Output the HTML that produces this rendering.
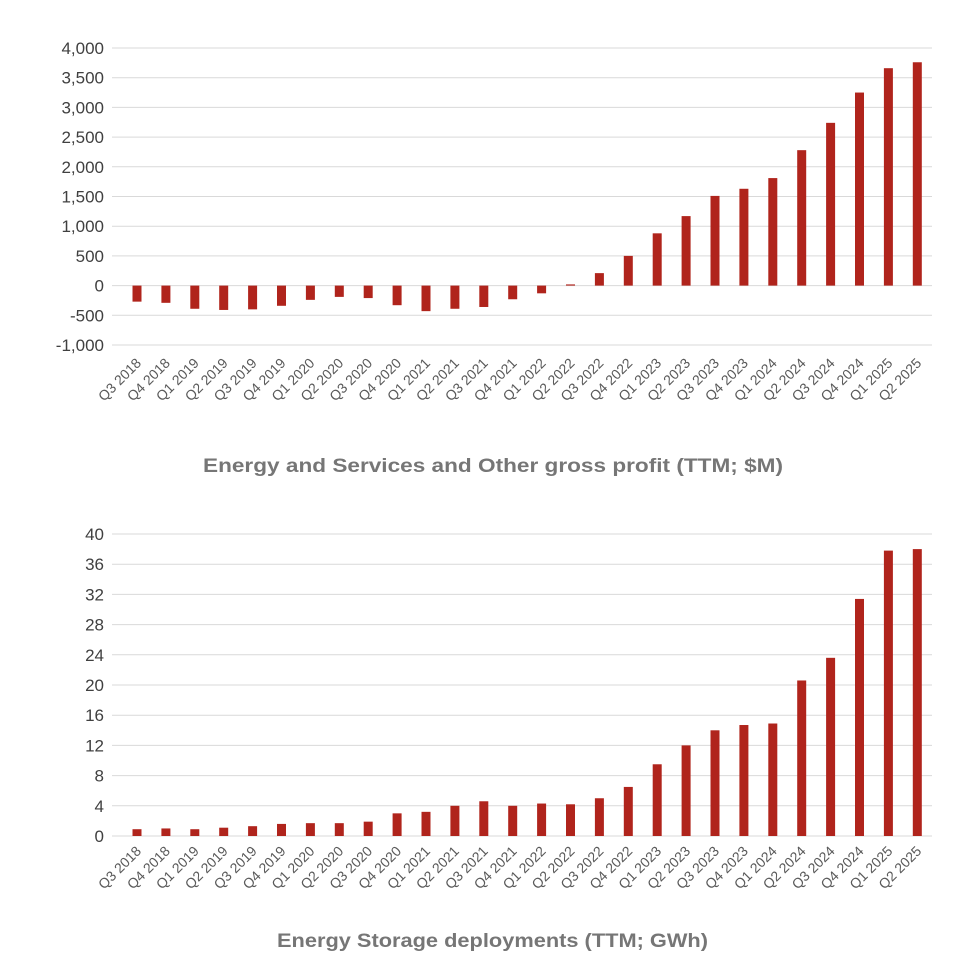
<!DOCTYPE html>
<html><head><meta charset="utf-8"><style>
body{margin:0;background:#fff;}
svg{display:block;font-family:"Liberation Sans",sans-serif;}
</style></head><body>
<svg id="c" width="980" height="972"></svg>
<script>
const categories=["Q3 2018","Q4 2018","Q1 2019","Q2 2019","Q3 2019","Q4 2019","Q1 2020","Q2 2020","Q3 2020","Q4 2020","Q1 2021","Q2 2021","Q3 2021","Q4 2021","Q1 2022","Q2 2022","Q3 2022","Q4 2022","Q1 2023","Q2 2023","Q3 2023","Q4 2023","Q1 2024","Q2 2024","Q3 2024","Q4 2024","Q1 2025","Q2 2025"];
const profitValues=[-270,-290,-390,-410,-400,-340,-240,-190,-210,-330,-430,-390,-360,-230,-130,20,210,500,880,1170,1510,1630,1810,2280,2740,3250,3660,3760];
const storageValues=[0.9,1.0,0.9,1.1,1.3,1.6,1.7,1.7,1.9,3.0,3.2,4.0,4.6,4.0,4.3,4.2,5.0,6.5,9.5,12.0,14.0,14.7,14.9,20.6,23.6,31.4,37.8,38.0];
const profitTicks=[-1000,-500,0,500,1000,1500,2000,2500,3000,3500,4000];
const profitTickLabels=["-1,000","-500","0","500","1,000","1,500","2,000","2,500","3,000","3,500","4,000"];
const storageTicks=[0,4,8,12,16,20,24,28,32,36,40];
const storageTickLabels=["0","4","8","12","16","20","24","28","32","36","40"];
const NS="http://www.w3.org/2000/svg",svg=document.getElementById('c');
function mk(t,a,p){const e=document.createElementNS(NS,t);for(const k in a)e.setAttribute(k,a[k]);(p||svg).appendChild(e);return e;}
function chart(o){
  const g=mk('g',{});
  
  
  const y=v=>o.y0+(v-o.min)/(o.max-o.min)*(o.y1-o.y0);
  const x=i=>137+i*28.9;
  o.ticks.forEach((t,i)=>{
    const l=mk('line',{x1:112,x2:932,y1:y(t),y2:y(t),stroke:'#d9d9d9','stroke-width':1},g);
    
    
    const tx=mk('text',{x:104,y:y(t)+6,'text-anchor':'end','font-size':17,fill:'#404040'},g);
    tx.textContent=o.tickLabels[i];
    
    
  });
  o.values.forEach((v,i)=>{
    const a=y(0),b=y(v);
    const r=mk('rect',{x:x(i)-4.5,y:Math.min(a,b),width:9,height:Math.max(1,Math.abs(a-b)),fill:'#b0241c'},g);
    
    
    const t=mk('text',{x:x(i)+5,y:o.labY,'text-anchor':'end','font-size':14,fill:'#595959',transform:`rotate(-45 ${x(i)+5} ${o.labY})`},g);
    t.textContent=categories[i];
    
    
  });
  const ti=mk('text',{x:o.titleX,y:o.titleY,'font-size':19,'font-weight':'bold',fill:'#767676',textLength:o.titleW,lengthAdjust:'spacingAndGlyphs'},g);
  ti.textContent=o.title;
  
  
}
chart({name:'gross-profit-chart',values:profitValues,ticks:profitTicks,tickLabels:profitTickLabels,min:-1000,max:4000,y0:345,y1:48,labY:364,titleX:203,titleW:580,titleY:472,title:'Energy and Services and Other gross profit (TTM; $M)'});
chart({name:'storage-deployments-chart',values:storageValues,ticks:storageTicks,tickLabels:storageTickLabels,min:0,max:40,y0:836,y1:534,labY:852,titleX:277,titleW:431,titleY:947,title:'Energy Storage deployments (TTM; GWh)'});
</script>
</body></html>
